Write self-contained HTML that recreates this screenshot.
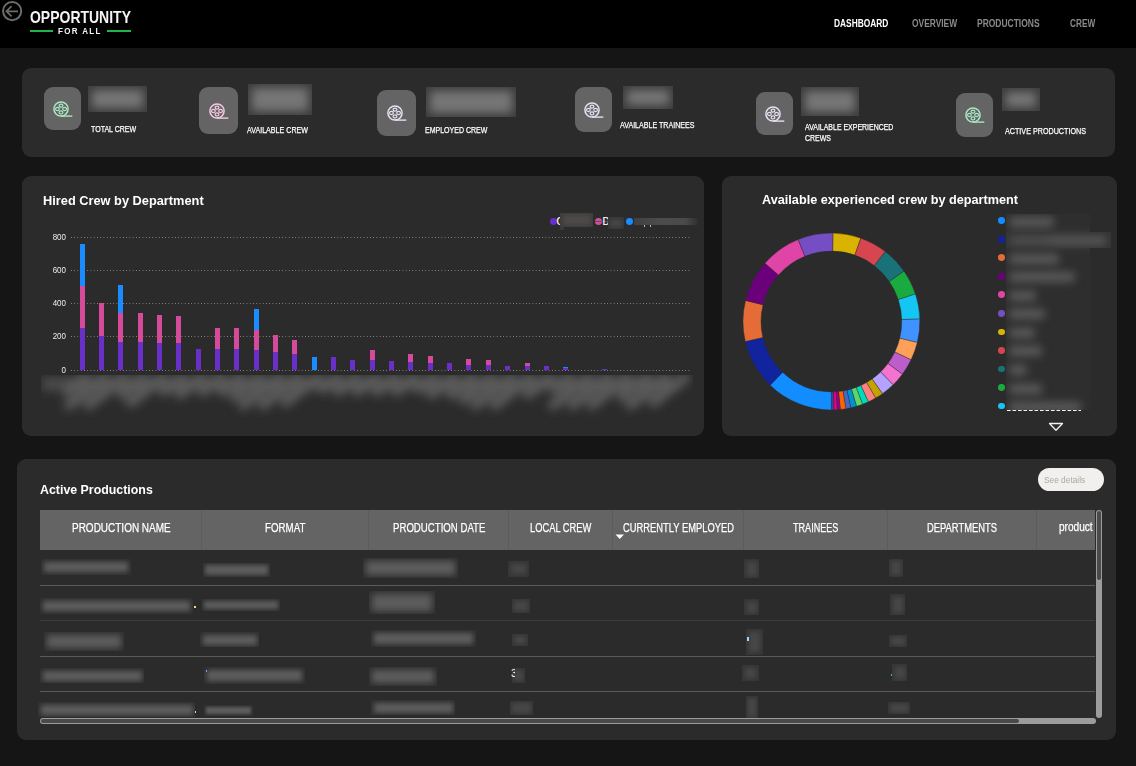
<!DOCTYPE html>
<html><head><meta charset="utf-8"><style>
*{box-sizing:border-box;margin:0;padding:0}
html,body{width:1136px;height:766px;overflow:hidden;background:#151515;font-family:"Liberation Sans", sans-serif;color:#fff}
.a{position:absolute}
.card{background:#2b2b2b;border-radius:9px}
.ib{background:#646464;border-radius:9px}
.t{white-space:nowrap;transform-origin:0 0;line-height:1}
.blob{overflow:hidden}
.blob i{position:absolute;display:block}
</style></head>
<body>
<div class="a" style="left:0;top:0;width:1136px;height:48px;background:#000"></div>
<svg class="a" style="left:0;top:0" width="26" height="24" viewBox="0 0 26 24">
<circle cx="12.15" cy="11.1" r="9.1" fill="none" stroke="#6e6c6a" stroke-width="2"/>
<path d="M18 11.3H6.6M11.6 6.1L6.4 11.3L11.6 16.4" fill="none" stroke="#6e6c6a" stroke-width="1.7"/>
</svg>
<div class="a t" style="left:29.7px;top:9.03px;font-size:16.09px;font-weight:700;color:#f4f4f4;transform:scaleX(0.8693);">OPPORTUNITY</div>
<div class="a t" style="left:58px;top:26.47px;font-size:9.57px;font-weight:700;color:#f4f4f4;letter-spacing:1.6px;transform:scaleX(0.8358);">FOR ALL</div>
<div class="a" style="left:30px;top:30.4px;width:23px;height:2px;background:#1fb44b"></div>
<div class="a" style="left:107px;top:30.4px;width:24px;height:2px;background:#1fb44b"></div>
<div class="a t" style="left:834px;top:19.38px;font-size:10.14px;font-weight:700;color:#ffffff;transform:scaleX(0.8265);">DASHBOARD</div>
<div class="a t" style="left:912.4px;top:19.38px;font-size:10.14px;font-weight:700;color:#8a8a8a;transform:scaleX(0.8294);">OVERVIEW</div>
<div class="a t" style="left:976.9px;top:19.38px;font-size:10.14px;font-weight:700;color:#8a8a8a;transform:scaleX(0.8364);">PRODUCTIONS</div>
<div class="a t" style="left:1069.7px;top:19.38px;font-size:10.14px;font-weight:700;color:#8a8a8a;transform:scaleX(0.8130);">CREW</div>
<div class="a card" style="left:22px;top:68px;width:1093px;height:89px"></div>
<div class="a ib" style="left:44px;top:87px;width:37px;height:43px"></div>
<svg class="a" style="left:51.0px;top:98.5px" width="24" height="20" viewBox="0 0 24 20">
<circle cx="10" cy="10" r="7.1" fill="none" stroke="#a8e8c4" stroke-width="1.5"/>
<ellipse cx="10" cy="6.6" rx="1.9" ry="1.55" fill="none" stroke="#a8e8c4" stroke-width="1.2"/>
<ellipse cx="10" cy="13.4" rx="1.9" ry="1.55" fill="none" stroke="#a8e8c4" stroke-width="1.2"/>
<ellipse cx="6.4" cy="10" rx="1.9" ry="1.55" fill="none" stroke="#a8e8c4" stroke-width="1.2"/>
<ellipse cx="13.6" cy="10" rx="1.9" ry="1.55" fill="none" stroke="#a8e8c4" stroke-width="1.2"/>
<path d="M10 17.1H21.3" stroke="#a8e8c4" stroke-width="1.4"/>
</svg>
<div class="a blob" style="left:88px;top:86px;width:59px;height:26px;background:#3c3c3c"><i style="left:4px;top:4px;right:4px;bottom:4px;background:#767676;filter:blur(5px)"></i></div>
<div class="a t" style="left:90.9px;top:125.16px;font-size:8.99px;font-weight:400;color:#ffffff;-webkit-text-stroke:0.25px #fff;transform:scaleX(0.7828);">TOTAL CREW</div>
<div class="a ib" style="left:199px;top:87px;width:39px;height:47px"></div>
<svg class="a" style="left:207.0px;top:100.5px" width="24" height="20" viewBox="0 0 24 20">
<circle cx="10" cy="10" r="7.1" fill="none" stroke="#f5c9e3" stroke-width="1.5"/>
<ellipse cx="10" cy="6.6" rx="1.9" ry="1.55" fill="none" stroke="#f5c9e3" stroke-width="1.2"/>
<ellipse cx="10" cy="13.4" rx="1.9" ry="1.55" fill="none" stroke="#f5c9e3" stroke-width="1.2"/>
<ellipse cx="6.4" cy="10" rx="1.9" ry="1.55" fill="none" stroke="#f5c9e3" stroke-width="1.2"/>
<ellipse cx="13.6" cy="10" rx="1.9" ry="1.55" fill="none" stroke="#f5c9e3" stroke-width="1.2"/>
<path d="M10 17.1H21.3" stroke="#f5c9e3" stroke-width="1.4"/>
</svg>
<div class="a blob" style="left:248px;top:84px;width:64px;height:31px;background:#3c3c3c"><i style="left:4px;top:4px;right:4px;bottom:4px;background:#767676;filter:blur(5px)"></i></div>
<div class="a t" style="left:247px;top:125.56px;font-size:8.99px;font-weight:400;color:#ffffff;-webkit-text-stroke:0.25px #fff;transform:scaleX(0.7915);">AVAILABLE CREW</div>
<div class="a ib" style="left:377px;top:90px;width:39px;height:46px"></div>
<svg class="a" style="left:385.0px;top:103.0px" width="24" height="20" viewBox="0 0 24 20">
<circle cx="10" cy="10" r="7.1" fill="none" stroke="#e6dff2" stroke-width="1.5"/>
<ellipse cx="10" cy="6.6" rx="1.9" ry="1.55" fill="none" stroke="#e6dff2" stroke-width="1.2"/>
<ellipse cx="10" cy="13.4" rx="1.9" ry="1.55" fill="none" stroke="#e6dff2" stroke-width="1.2"/>
<ellipse cx="6.4" cy="10" rx="1.9" ry="1.55" fill="none" stroke="#e6dff2" stroke-width="1.2"/>
<ellipse cx="13.6" cy="10" rx="1.9" ry="1.55" fill="none" stroke="#e6dff2" stroke-width="1.2"/>
<path d="M10 17.1H21.3" stroke="#e6dff2" stroke-width="1.4"/>
</svg>
<div class="a blob" style="left:426px;top:87px;width:90px;height:30px;background:#3c3c3c"><i style="left:4px;top:4px;right:4px;bottom:4px;background:#767676;filter:blur(5px)"></i></div>
<div class="a t" style="left:425px;top:125.76px;font-size:8.99px;font-weight:400;color:#ffffff;-webkit-text-stroke:0.25px #fff;transform:scaleX(0.7811);">EMPLOYED CREW</div>
<div class="a ib" style="left:575px;top:87px;width:37px;height:45px"></div>
<svg class="a" style="left:582.0px;top:99.5px" width="24" height="20" viewBox="0 0 24 20">
<circle cx="10" cy="10" r="7.1" fill="none" stroke="#e6dff2" stroke-width="1.5"/>
<ellipse cx="10" cy="6.6" rx="1.9" ry="1.55" fill="none" stroke="#e6dff2" stroke-width="1.2"/>
<ellipse cx="10" cy="13.4" rx="1.9" ry="1.55" fill="none" stroke="#e6dff2" stroke-width="1.2"/>
<ellipse cx="6.4" cy="10" rx="1.9" ry="1.55" fill="none" stroke="#e6dff2" stroke-width="1.2"/>
<ellipse cx="13.6" cy="10" rx="1.9" ry="1.55" fill="none" stroke="#e6dff2" stroke-width="1.2"/>
<path d="M10 17.1H21.3" stroke="#e6dff2" stroke-width="1.4"/>
</svg>
<div class="a blob" style="left:623px;top:86px;width:50px;height:23px;background:#3c3c3c"><i style="left:4px;top:4px;right:4px;bottom:4px;background:#767676;filter:blur(5px)"></i></div>
<div class="a t" style="left:619.8px;top:120.96px;font-size:8.99px;font-weight:400;color:#ffffff;-webkit-text-stroke:0.25px #fff;transform:scaleX(0.7893);">AVAILABLE TRAINEES</div>
<div class="a ib" style="left:756px;top:92px;width:37px;height:43px"></div>
<svg class="a" style="left:763.0px;top:103.5px" width="24" height="20" viewBox="0 0 24 20">
<circle cx="10" cy="10" r="7.1" fill="none" stroke="#e6dff2" stroke-width="1.5"/>
<ellipse cx="10" cy="6.6" rx="1.9" ry="1.55" fill="none" stroke="#e6dff2" stroke-width="1.2"/>
<ellipse cx="10" cy="13.4" rx="1.9" ry="1.55" fill="none" stroke="#e6dff2" stroke-width="1.2"/>
<ellipse cx="6.4" cy="10" rx="1.9" ry="1.55" fill="none" stroke="#e6dff2" stroke-width="1.2"/>
<ellipse cx="13.6" cy="10" rx="1.9" ry="1.55" fill="none" stroke="#e6dff2" stroke-width="1.2"/>
<path d="M10 17.1H21.3" stroke="#e6dff2" stroke-width="1.4"/>
</svg>
<div class="a blob" style="left:801px;top:87px;width:58px;height:29px;background:#3c3c3c"><i style="left:4px;top:4px;right:4px;bottom:4px;background:#767676;filter:blur(5px)"></i></div>
<div class="a t" style="left:805px;top:122.66px;font-size:8.99px;font-weight:400;color:#ffffff;-webkit-text-stroke:0.25px #fff;transform:scaleX(0.7753);">AVAILABLE EXPERIENCED</div>
<div class="a t" style="left:805px;top:133.86px;font-size:8.99px;font-weight:400;color:#ffffff;-webkit-text-stroke:0.25px #fff;transform:scaleX(0.7774);">CREWS</div>
<div class="a ib" style="left:956px;top:93px;width:37px;height:44px"></div>
<svg class="a" style="left:963.0px;top:105.0px" width="24" height="20" viewBox="0 0 24 20">
<circle cx="10" cy="10" r="7.1" fill="none" stroke="#a8e8c4" stroke-width="1.5"/>
<ellipse cx="10" cy="6.6" rx="1.9" ry="1.55" fill="none" stroke="#a8e8c4" stroke-width="1.2"/>
<ellipse cx="10" cy="13.4" rx="1.9" ry="1.55" fill="none" stroke="#a8e8c4" stroke-width="1.2"/>
<ellipse cx="6.4" cy="10" rx="1.9" ry="1.55" fill="none" stroke="#a8e8c4" stroke-width="1.2"/>
<ellipse cx="13.6" cy="10" rx="1.9" ry="1.55" fill="none" stroke="#a8e8c4" stroke-width="1.2"/>
<path d="M10 17.1H21.3" stroke="#a8e8c4" stroke-width="1.4"/>
</svg>
<div class="a blob" style="left:1002px;top:88px;width:38px;height:23px;background:#3c3c3c"><i style="left:4px;top:4px;right:4px;bottom:4px;background:#767676;filter:blur(5px)"></i></div>
<div class="a t" style="left:1005px;top:126.86px;font-size:8.99px;font-weight:400;color:#ffffff;-webkit-text-stroke:0.25px #fff;transform:scaleX(0.7992);">ACTIVE PRODUCTIONS</div>
<div class="a card" style="left:22px;top:176px;width:682px;height:260px"></div>
<div class="a t" style="left:42.9px;top:193.71px;font-size:13.04px;font-weight:700;color:#ffffff;transform:scaleX(0.9816);">Hired Crew by Department</div>
<div class="a" style="left:71px;top:237px;width:620px;height:1px;background-image:linear-gradient(90deg,#8e8e8e 1px,transparent 1px);background-size:3.25px 1px"></div>
<div class="a t" style="left:30px;width:36px;text-align:right;top:232.7px;font-size:9.2px;color:#ececec;transform:scaleX(0.87);transform-origin:100% 0">800</div>
<div class="a" style="left:71px;top:270px;width:620px;height:1px;background-image:linear-gradient(90deg,#8e8e8e 1px,transparent 1px);background-size:3.25px 1px"></div>
<div class="a t" style="left:30px;width:36px;text-align:right;top:265.7px;font-size:9.2px;color:#ececec;transform:scaleX(0.87);transform-origin:100% 0">600</div>
<div class="a" style="left:71px;top:303px;width:620px;height:1px;background-image:linear-gradient(90deg,#8e8e8e 1px,transparent 1px);background-size:3.25px 1px"></div>
<div class="a t" style="left:30px;width:36px;text-align:right;top:298.7px;font-size:9.2px;color:#ececec;transform:scaleX(0.87);transform-origin:100% 0">400</div>
<div class="a" style="left:71px;top:336px;width:620px;height:1px;background-image:linear-gradient(90deg,#8e8e8e 1px,transparent 1px);background-size:3.25px 1px"></div>
<div class="a t" style="left:30px;width:36px;text-align:right;top:331.7px;font-size:9.2px;color:#ececec;transform:scaleX(0.87);transform-origin:100% 0">200</div>
<div class="a" style="left:71px;top:370px;width:620px;height:1px;background-image:linear-gradient(90deg,#8e8e8e 1px,transparent 1px);background-size:3.25px 1px"></div>
<div class="a t" style="left:30px;width:36px;text-align:right;top:365.7px;font-size:9.2px;color:#ececec;transform:scaleX(0.87);transform-origin:100% 0">0</div>
<div class="a" style="left:80px;top:328px;width:5px;height:42px;background:#6a2ec9"></div>
<div class="a" style="left:80px;top:286px;width:5px;height:42px;background:#d64a9c"></div>
<div class="a" style="left:80px;top:244px;width:5px;height:42px;background:#1a8cff"></div>
<div class="a" style="left:99px;top:336px;width:5px;height:34px;background:#6a2ec9"></div>
<div class="a" style="left:99px;top:303px;width:5px;height:33px;background:#d64a9c"></div>
<div class="a" style="left:118px;top:342px;width:5px;height:28px;background:#6a2ec9"></div>
<div class="a" style="left:118px;top:313px;width:5px;height:29px;background:#d64a9c"></div>
<div class="a" style="left:118px;top:285px;width:5px;height:28px;background:#1a8cff"></div>
<div class="a" style="left:138px;top:342px;width:5px;height:28px;background:#6a2ec9"></div>
<div class="a" style="left:138px;top:313px;width:5px;height:29px;background:#d64a9c"></div>
<div class="a" style="left:157px;top:343px;width:5px;height:27px;background:#6a2ec9"></div>
<div class="a" style="left:157px;top:315px;width:5px;height:28px;background:#d64a9c"></div>
<div class="a" style="left:176px;top:343px;width:5px;height:27px;background:#6a2ec9"></div>
<div class="a" style="left:176px;top:316px;width:5px;height:27px;background:#d64a9c"></div>
<div class="a" style="left:196px;top:349px;width:5px;height:21px;background:#6a2ec9"></div>
<div class="a" style="left:215px;top:349px;width:5px;height:21px;background:#6a2ec9"></div>
<div class="a" style="left:215px;top:328px;width:5px;height:21px;background:#d64a9c"></div>
<div class="a" style="left:234px;top:349px;width:5px;height:21px;background:#6a2ec9"></div>
<div class="a" style="left:234px;top:328px;width:5px;height:21px;background:#d64a9c"></div>
<div class="a" style="left:254px;top:350px;width:5px;height:20px;background:#6a2ec9"></div>
<div class="a" style="left:254px;top:330px;width:5px;height:20px;background:#d64a9c"></div>
<div class="a" style="left:254px;top:309px;width:5px;height:21px;background:#1a8cff"></div>
<div class="a" style="left:273px;top:352px;width:5px;height:18px;background:#6a2ec9"></div>
<div class="a" style="left:273px;top:335px;width:5px;height:17px;background:#d64a9c"></div>
<div class="a" style="left:292px;top:354px;width:5px;height:16px;background:#6a2ec9"></div>
<div class="a" style="left:292px;top:340px;width:5px;height:14px;background:#d64a9c"></div>
<div class="a" style="left:312px;top:357px;width:5px;height:13px;background:#1a8cff"></div>
<div class="a" style="left:331px;top:357px;width:5px;height:13px;background:#6a2ec9"></div>
<div class="a" style="left:350px;top:360px;width:5px;height:10px;background:#6a2ec9"></div>
<div class="a" style="left:370px;top:360px;width:5px;height:10px;background:#6a2ec9"></div>
<div class="a" style="left:370px;top:350px;width:5px;height:10px;background:#d64a9c"></div>
<div class="a" style="left:389px;top:361px;width:5px;height:9px;background:#6a2ec9"></div>
<div class="a" style="left:408px;top:362px;width:5px;height:8px;background:#6a2ec9"></div>
<div class="a" style="left:408px;top:354px;width:5px;height:8px;background:#d64a9c"></div>
<div class="a" style="left:428px;top:363px;width:5px;height:7px;background:#6a2ec9"></div>
<div class="a" style="left:428px;top:356px;width:5px;height:7px;background:#d64a9c"></div>
<div class="a" style="left:447px;top:363px;width:5px;height:7px;background:#6a2ec9"></div>
<div class="a" style="left:466px;top:365px;width:5px;height:5px;background:#6a2ec9"></div>
<div class="a" style="left:466px;top:359px;width:5px;height:6px;background:#d64a9c"></div>
<div class="a" style="left:486px;top:365px;width:5px;height:5px;background:#6a2ec9"></div>
<div class="a" style="left:486px;top:360px;width:5px;height:5px;background:#d64a9c"></div>
<div class="a" style="left:505px;top:366px;width:5px;height:4px;background:#6a2ec9"></div>
<div class="a" style="left:525px;top:366px;width:5px;height:4px;background:#6a2ec9"></div>
<div class="a" style="left:525px;top:363px;width:5px;height:3px;background:#d64a9c"></div>
<div class="a" style="left:544px;top:366px;width:5px;height:4px;background:#6a2ec9"></div>
<div class="a" style="left:563px;top:368px;width:5px;height:2px;background:#6a2ec9"></div>
<div class="a" style="left:563px;top:367px;width:5px;height:1px;background:#1a8cff"></div>
<div class="a" style="left:602px;top:369px;width:5px;height:1px;background:#6a2ec9"></div>
<div class="a" style="left:41px;top:375px;width:652px;height:50px;overflow:hidden"><svg class="a" style="left:-5px;top:-9px" width="670" height="60" viewBox="0 0 670 60"><defs><filter id="bl" x="-10%" y="-50%" width="120%" height="200%"><feGaussianBlur stdDeviation="5"/></filter></defs><g filter="url(#bl)"><rect x="6" y="11" width="632" height="14" fill="#4a4a4a"/><line x1="49.0" y1="12" x2="31.4" y2="25.5" stroke="#5c5c5c" stroke-width="10" stroke-linecap="round"/><line x1="68.3" y1="12" x2="33.2" y2="39.0" stroke="#5c5c5c" stroke-width="10" stroke-linecap="round"/><line x1="87.7" y1="12" x2="52.6" y2="39.0" stroke="#5c5c5c" stroke-width="10" stroke-linecap="round"/><line x1="107.1" y1="12" x2="86.0" y2="28.2" stroke="#5c5c5c" stroke-width="10" stroke-linecap="round"/><line x1="126.4" y1="12" x2="94.8" y2="36.3" stroke="#5c5c5c" stroke-width="10" stroke-linecap="round"/><line x1="145.8" y1="12" x2="128.2" y2="25.5" stroke="#5c5c5c" stroke-width="10" stroke-linecap="round"/><line x1="165.1" y1="12" x2="144.0" y2="28.2" stroke="#5c5c5c" stroke-width="10" stroke-linecap="round"/><line x1="184.5" y1="12" x2="166.9" y2="25.5" stroke="#5c5c5c" stroke-width="10" stroke-linecap="round"/><line x1="203.8" y1="12" x2="186.2" y2="25.5" stroke="#5c5c5c" stroke-width="10" stroke-linecap="round"/><line x1="223.1" y1="12" x2="198.6" y2="30.9" stroke="#5c5c5c" stroke-width="10" stroke-linecap="round"/><line x1="242.5" y1="12" x2="207.4" y2="39.0" stroke="#5c5c5c" stroke-width="10" stroke-linecap="round"/><line x1="261.9" y1="12" x2="226.8" y2="39.0" stroke="#5c5c5c" stroke-width="10" stroke-linecap="round"/><line x1="281.2" y1="12" x2="249.6" y2="36.3" stroke="#5c5c5c" stroke-width="10" stroke-linecap="round"/><line x1="300.6" y1="12" x2="286.5" y2="22.8" stroke="#5c5c5c" stroke-width="10" stroke-linecap="round"/><line x1="319.9" y1="12" x2="302.4" y2="25.5" stroke="#5c5c5c" stroke-width="10" stroke-linecap="round"/><line x1="339.2" y1="12" x2="321.7" y2="25.5" stroke="#5c5c5c" stroke-width="10" stroke-linecap="round"/><line x1="358.6" y1="12" x2="341.1" y2="25.5" stroke="#5c5c5c" stroke-width="10" stroke-linecap="round"/><line x1="378.0" y1="12" x2="360.4" y2="25.5" stroke="#5c5c5c" stroke-width="10" stroke-linecap="round"/><line x1="397.3" y1="12" x2="383.3" y2="22.8" stroke="#5c5c5c" stroke-width="10" stroke-linecap="round"/><line x1="416.7" y1="12" x2="395.6" y2="28.2" stroke="#5c5c5c" stroke-width="10" stroke-linecap="round"/><line x1="436.0" y1="12" x2="414.9" y2="28.2" stroke="#5c5c5c" stroke-width="10" stroke-linecap="round"/><line x1="455.4" y1="12" x2="427.3" y2="33.6" stroke="#5c5c5c" stroke-width="10" stroke-linecap="round"/><line x1="474.7" y1="12" x2="439.6" y2="39.0" stroke="#5c5c5c" stroke-width="10" stroke-linecap="round"/><line x1="494.0" y1="12" x2="458.9" y2="39.0" stroke="#5c5c5c" stroke-width="10" stroke-linecap="round"/><line x1="513.4" y1="12" x2="492.3" y2="28.2" stroke="#5c5c5c" stroke-width="10" stroke-linecap="round"/><line x1="532.8" y1="12" x2="518.7" y2="22.8" stroke="#5c5c5c" stroke-width="10" stroke-linecap="round"/><line x1="552.1" y1="12" x2="517.0" y2="39.0" stroke="#5c5c5c" stroke-width="10" stroke-linecap="round"/><line x1="571.5" y1="12" x2="536.4" y2="39.0" stroke="#5c5c5c" stroke-width="10" stroke-linecap="round"/><line x1="590.8" y1="12" x2="555.7" y2="39.0" stroke="#5c5c5c" stroke-width="10" stroke-linecap="round"/><line x1="610.2" y1="12" x2="585.6" y2="30.9" stroke="#5c5c5c" stroke-width="10" stroke-linecap="round"/><line x1="629.5" y1="12" x2="594.4" y2="39.0" stroke="#5c5c5c" stroke-width="10" stroke-linecap="round"/><line x1="648.9" y1="12" x2="617.3" y2="36.3" stroke="#5c5c5c" stroke-width="10" stroke-linecap="round"/></g></svg></div>
<div class="a" style="left:549.9px;top:217.8px;width:6.8px;height:6.8px;border-radius:50%;background:#6a2ec9"></div>
<div class="a t" style="left:556.5px;top:217px;font-size:10px;color:#fff;-webkit-text-stroke:0.2px #fff">C</div>
<div class="a blob" style="left:560.3px;top:213px;width:32.700000000000045px;height:14px;background:#3e3b3b"><i style="left:2.3333333333333335px;top:2.3333333333333335px;right:2.3333333333333335px;bottom:2.3333333333333335px;background:#4e4a4a;filter:blur(2.3333333333333335px)"></i></div>
<div class="a" style="left:560.3px;top:227px;width:4px;height:3px;background:#3a3838"></div>
<div class="a" style="left:594.9px;top:217.8px;width:6.8px;height:6.8px;border-radius:50%;background:#d64a9c"></div>
<div class="a" style="left:595px;top:220.8px;width:13px;height:0.8px;background:#555"></div>
<div class="a t" style="left:602.5px;top:217px;font-size:10px;color:#fff;-webkit-text-stroke:0.2px #fff">D</div>
<div class="a blob" style="left:608px;top:217px;width:16px;height:11.5px;background:#353535"><i style="left:1.9166666666666667px;top:1.9166666666666667px;right:1.9166666666666667px;bottom:1.9166666666666667px;background:#474747;filter:blur(1.9166666666666667px)"></i></div>
<div class="a" style="left:626px;top:217.8px;width:6.8px;height:6.8px;border-radius:50%;background:#1a8cff"></div>
<div class="a" style="left:634px;top:217.8px;width:64px;height:7px;background:linear-gradient(90deg,#404042,#4e4b4b 40%,#4a4a4a 80%,#2f2f2f)"></div>
<div class="a" style="left:644px;top:225px;width:1px;height:2px;background:#bbb"></div><div class="a" style="left:650px;top:225px;width:1px;height:2px;background:#bbb"></div>
<div class="a card" style="left:722px;top:176px;width:395px;height:260px"></div>
<div class="a t" style="left:762.1px;top:193.11px;font-size:13.04px;font-weight:700;color:#ffffff;transform:scaleX(0.9731);">Available experienced crew by department</div>
<svg class="a" style="left:0;top:0" width="1136" height="766" viewBox="0 0 1136 766"><path d="M832.94 233.11A88.4 88.4 0 0 1 860.84 238.14L854.84 255.12A70.4 70.4 0 0 0 832.63 251.11Z" fill="#D9B300" stroke="#2b2b2b" stroke-width="0.4"/><path d="M860.84 238.14A88.4 88.4 0 0 1 885.34 251.46L874.35 265.72A70.4 70.4 0 0 0 854.84 255.12Z" fill="#D64550" stroke="#2b2b2b" stroke-width="0.4"/><path d="M885.34 251.46A88.4 88.4 0 0 1 904.08 271.18L889.28 281.42A70.4 70.4 0 0 0 874.35 265.72Z" fill="#197278" stroke="#2b2b2b" stroke-width="0.4"/><path d="M904.08 271.18A88.4 88.4 0 0 1 915.43 294.04L898.32 299.63A70.4 70.4 0 0 0 889.28 281.42Z" fill="#1AAB40" stroke="#2b2b2b" stroke-width="0.4"/><path d="M915.43 294.04A88.4 88.4 0 0 1 919.77 319.03L901.77 319.53A70.4 70.4 0 0 0 898.32 299.63Z" fill="#15C6F4" stroke="#2b2b2b" stroke-width="0.4"/><path d="M919.77 319.03A88.4 88.4 0 0 1 917.25 342.59L899.77 338.29A70.4 70.4 0 0 0 901.77 319.53Z" fill="#4092FF" stroke="#2b2b2b" stroke-width="0.4"/><path d="M917.25 342.59A88.4 88.4 0 0 1 911.06 359.84L894.84 352.03A70.4 70.4 0 0 0 899.77 338.29Z" fill="#FFA058" stroke="#2b2b2b" stroke-width="0.4"/><path d="M911.06 359.84A88.4 88.4 0 0 1 902.37 374.21L887.92 363.47A70.4 70.4 0 0 0 894.84 352.03Z" fill="#BE5DC9" stroke="#2b2b2b" stroke-width="0.4"/><path d="M902.37 374.21A88.4 88.4 0 0 1 893.14 384.77L880.57 371.88A70.4 70.4 0 0 0 887.92 363.47Z" fill="#F472D0" stroke="#2b2b2b" stroke-width="0.4"/><path d="M893.14 384.77A88.4 88.4 0 0 1 882.48 393.65L872.08 378.96A70.4 70.4 0 0 0 880.57 371.88Z" fill="#B5A1FF" stroke="#2b2b2b" stroke-width="0.4"/><path d="M882.48 393.65A88.4 88.4 0 0 1 875.60 398.06L866.60 382.47A70.4 70.4 0 0 0 872.08 378.96Z" fill="#C4A200" stroke="#2b2b2b" stroke-width="0.4"/><path d="M875.60 398.06A88.4 88.4 0 0 1 868.34 401.81L860.82 385.46A70.4 70.4 0 0 0 866.60 382.47Z" fill="#FF8080" stroke="#2b2b2b" stroke-width="0.4"/><path d="M868.34 401.81A88.4 88.4 0 0 1 862.50 404.25L856.17 387.40A70.4 70.4 0 0 0 860.82 385.46Z" fill="#00DBBC" stroke="#2b2b2b" stroke-width="0.4"/><path d="M862.50 404.25A88.4 88.4 0 0 1 856.51 406.26L851.39 389.00A70.4 70.4 0 0 0 856.17 387.40Z" fill="#5BD667" stroke="#2b2b2b" stroke-width="0.4"/><path d="M856.51 406.26A88.4 88.4 0 0 1 850.83 407.74L846.88 390.18A70.4 70.4 0 0 0 851.39 389.00Z" fill="#0091D5" stroke="#2b2b2b" stroke-width="0.4"/><path d="M850.83 407.74A88.4 88.4 0 0 1 845.84 408.71L842.90 390.95A70.4 70.4 0 0 0 846.88 390.18Z" fill="#4668C5" stroke="#2b2b2b" stroke-width="0.4"/><path d="M845.84 408.71A88.4 88.4 0 0 1 840.33 409.45L838.51 391.54A70.4 70.4 0 0 0 842.90 390.95Z" fill="#FF6300" stroke="#2b2b2b" stroke-width="0.4"/><path d="M840.33 409.45A88.4 88.4 0 0 1 837.10 409.72L835.94 391.75A70.4 70.4 0 0 0 838.51 391.54Z" fill="#99008A" stroke="#2b2b2b" stroke-width="0.4"/><path d="M837.10 409.72A88.4 88.4 0 0 1 834.02 409.86L833.49 391.87A70.4 70.4 0 0 0 835.94 391.75Z" fill="#EC008C" stroke="#2b2b2b" stroke-width="0.4"/><path d="M834.02 409.86A88.4 88.4 0 0 1 831.40 409.90L831.40 391.90A70.4 70.4 0 0 0 833.49 391.87Z" fill="#5B3590" stroke="#2b2b2b" stroke-width="0.4"/><path d="M831.40 409.90A88.4 88.4 0 0 1 770.10 385.20L782.58 372.23A70.4 70.4 0 0 0 831.40 391.90Z" fill="#118DFF" stroke="#2b2b2b" stroke-width="0.4"/><path d="M770.10 385.20A88.4 88.4 0 0 1 745.30 341.54L762.83 337.46A70.4 70.4 0 0 0 782.58 372.23Z" fill="#12239E" stroke="#2b2b2b" stroke-width="0.4"/><path d="M745.30 341.54A88.4 88.4 0 0 1 745.55 300.41L763.03 304.71A70.4 70.4 0 0 0 762.83 337.46Z" fill="#E66C37" stroke="#2b2b2b" stroke-width="0.4"/><path d="M745.55 300.41A88.4 88.4 0 0 1 764.99 263.16L778.51 275.04A70.4 70.4 0 0 0 763.03 304.71Z" fill="#6B007B" stroke="#2b2b2b" stroke-width="0.4"/><path d="M764.99 263.16A88.4 88.4 0 0 1 798.14 239.59L804.91 256.27A70.4 70.4 0 0 0 778.51 275.04Z" fill="#E044A7" stroke="#2b2b2b" stroke-width="0.4"/><path d="M798.14 239.59A88.4 88.4 0 0 1 832.94 233.11L832.63 251.11A70.4 70.4 0 0 0 804.91 256.27Z" fill="#744EC2" stroke="#2b2b2b" stroke-width="0.4"/></svg>
<div class="a" style="left:998.0px;top:217.2px;width:6.8px;height:6.8px;border-radius:50%;background:#118DFF"></div>
<div class="a" style="left:998.0px;top:235.8px;width:6.8px;height:6.8px;border-radius:50%;background:#12239E"></div>
<div class="a" style="left:998.0px;top:254.3px;width:6.8px;height:6.8px;border-radius:50%;background:#E66C37"></div>
<div class="a" style="left:998.0px;top:272.9px;width:6.8px;height:6.8px;border-radius:50%;background:#6B007B"></div>
<div class="a" style="left:998.0px;top:291.4px;width:6.8px;height:6.8px;border-radius:50%;background:#E044A7"></div>
<div class="a" style="left:998.0px;top:310.0px;width:6.8px;height:6.8px;border-radius:50%;background:#744EC2"></div>
<div class="a" style="left:998.0px;top:328.5px;width:6.8px;height:6.8px;border-radius:50%;background:#D9B300"></div>
<div class="a" style="left:998.0px;top:347.1px;width:6.8px;height:6.8px;border-radius:50%;background:#D64550"></div>
<div class="a" style="left:998.0px;top:365.6px;width:6.8px;height:6.8px;border-radius:50%;background:#197278"></div>
<div class="a" style="left:998.0px;top:384.2px;width:6.8px;height:6.8px;border-radius:50%;background:#1AAB40"></div>
<div class="a" style="left:998.0px;top:402.7px;width:6.8px;height:6.8px;border-radius:50%;background:#15C6F4"></div>
<div class="a" style="left:1006px;top:214px;width:84px;height:196px;overflow:hidden;background:#2e2e2e"><div class="a" style="left:0;top:0;width:84px;height:196px;filter:blur(4px)"><i class="a" style="left:3px;top:2.6px;width:45.0px;height:10px;background:#5a5a5a;border-radius:3px"></i><i class="a" style="left:3px;top:21.2px;width:86.0px;height:10px;background:#5a5a5a;border-radius:3px"></i><i class="a" style="left:3px;top:39.7px;width:49.5px;height:10px;background:#5a5a5a;border-radius:3px"></i><i class="a" style="left:3px;top:58.2px;width:66.0px;height:10px;background:#5a5a5a;border-radius:3px"></i><i class="a" style="left:3px;top:76.8px;width:27.0px;height:10px;background:#5a5a5a;border-radius:3px"></i><i class="a" style="left:3px;top:95.4px;width:36.0px;height:10px;background:#5a5a5a;border-radius:3px"></i><i class="a" style="left:3px;top:113.9px;width:25.5px;height:10px;background:#5a5a5a;border-radius:3px"></i><i class="a" style="left:3px;top:132.4px;width:33.0px;height:10px;background:#5a5a5a;border-radius:3px"></i><i class="a" style="left:3px;top:151.0px;width:18.0px;height:10px;background:#5a5a5a;border-radius:3px"></i><i class="a" style="left:3px;top:169.6px;width:33.0px;height:10px;background:#5a5a5a;border-radius:3px"></i><i class="a" style="left:3px;top:188.1px;width:72.0px;height:10px;background:#5a5a5a;border-radius:3px"></i></div></div>
<div class="a" style="left:1006px;top:232px;width:105px;height:16px;overflow:hidden;background:#333"><div class="a" style="left:0;top:0;width:105px;height:16px;filter:blur(4px)"><i class="a" style="left:40px;top:4px;width:60px;height:9px;background:#585858"></i><i class="a" style="left:4px;top:4px;width:40px;height:9px;background:#505050"></i></div></div>
<div class="a" style="left:1007px;top:409.8px;width:74px;height:1.2px;background-image:linear-gradient(90deg,#f4f4f4 60%,transparent 60%);background-size:5.5px 1px"></div>
<svg class="a" style="left:1048px;top:422px" width="16" height="10" viewBox="0 0 16 10"><path d="M1.5 1.5H14.5L8 8.3Z" fill="none" stroke="#f0f0f0" stroke-width="1.3" stroke-linejoin="round"/></svg>
<div class="a card" style="left:17px;top:459px;width:1099px;height:281px"></div>
<div class="a t" style="left:40.1px;top:482.57px;font-size:13.33px;font-weight:700;color:#ffffff;transform:scaleX(0.9284);">Active Productions</div>
<div class="a" style="left:1038px;top:468px;width:66px;height:23px;border-radius:12px;background:#f1f0ee"></div>
<div class="a t" style="left:1044px;top:475.27px;font-size:9.57px;font-weight:400;color:#aca7a2;transform:scaleX(0.8705);">See details</div>
<div class="a" style="left:40px;top:510px;width:1055px;height:40px;background:#646464"></div>
<div class="a" style="left:201px;top:510px;width:1px;height:40px;background:#5c5c5c"></div>
<div class="a" style="left:368px;top:510px;width:1px;height:40px;background:#5c5c5c"></div>
<div class="a" style="left:508px;top:510px;width:1px;height:40px;background:#5c5c5c"></div>
<div class="a" style="left:612px;top:510px;width:1px;height:40px;background:#5c5c5c"></div>
<div class="a" style="left:743px;top:510px;width:1px;height:40px;background:#5c5c5c"></div>
<div class="a" style="left:887px;top:510px;width:1px;height:40px;background:#5c5c5c"></div>
<div class="a" style="left:1036px;top:510px;width:1px;height:40px;background:#5c5c5c"></div>
<div class="a t" style="left:71.95px;top:521.98px;font-size:12.61px;font-weight:400;color:#ffffff;transform:scaleX(0.7916);-webkit-text-stroke:0.25px #fff">PRODUCTION NAME</div>
<div class="a t" style="left:265.10px;top:521.98px;font-size:12.61px;font-weight:400;color:#ffffff;transform:scaleX(0.7725);-webkit-text-stroke:0.25px #fff">FORMAT</div>
<div class="a t" style="left:392.60px;top:521.98px;font-size:12.61px;font-weight:400;color:#ffffff;transform:scaleX(0.7639);-webkit-text-stroke:0.25px #fff">PRODUCTION DATE</div>
<div class="a t" style="left:530.10px;top:521.98px;font-size:12.61px;font-weight:400;color:#ffffff;transform:scaleX(0.7406);-webkit-text-stroke:0.25px #fff">LOCAL CREW</div>
<div class="a t" style="left:622.80px;top:521.98px;font-size:12.61px;font-weight:400;color:#ffffff;transform:scaleX(0.7426);-webkit-text-stroke:0.25px #fff">CURRENTLY EMPLOYED</div>
<div class="a t" style="left:793.10px;top:521.98px;font-size:12.61px;font-weight:400;color:#ffffff;transform:scaleX(0.72);-webkit-text-stroke:0.25px #fff">TRAINEES</div>
<div class="a t" style="left:927.30px;top:521.98px;font-size:12.61px;font-weight:400;color:#ffffff;transform:scaleX(0.7438);-webkit-text-stroke:0.25px #fff">DEPARTMENTS</div>
<div class="a" style="left:1036px;top:510px;width:59px;height:40px;overflow:hidden"><div class="a t" style="left:23px;top:10.5px;font-size:12.6px;transform:scaleX(0.8);-webkit-text-stroke:0.25px #fff">product</div></div>
<svg class="a" style="left:615px;top:534px" width="10" height="6" viewBox="0 0 10 6"><path d="M0.5 0.5H9L4.75 5Z" fill="#fff"/></svg>
<div class="a" style="left:40px;top:585px;width:1055px;height:1px;background:#5a5a5a"></div>
<div class="a" style="left:40px;top:620px;width:1055px;height:1px;background:#3c3c3c"></div>
<div class="a" style="left:40px;top:656px;width:1055px;height:1px;background:#5a5a5a"></div>
<div class="a" style="left:40px;top:691px;width:1055px;height:1px;background:#5a5a5a"></div>
<div class="a" style="left:194px;top:606px;width:2px;height:2px;background:#f5d58a"></div>
<div class="a" style="left:194px;top:711px;width:2px;height:2px;background:#f5d58a"></div>
<div class="a" style="left:44px;top:704.5px;width:1px;height:2px;background:#3db4f0"></div>
<div class="a blob" style="left:41px;top:559px;width:90px;height:16px;background:#2f2f2f"><i style="left:2.6666666666666665px;top:2.6666666666666665px;right:2.6666666666666665px;bottom:2.6666666666666665px;background:#5c5c5c;filter:blur(2.6666666666666665px)"></i></div>
<div class="a blob" style="left:203px;top:563px;width:67px;height:14px;background:#2f2f2f"><i style="left:2.3333333333333335px;top:2.3333333333333335px;right:2.3333333333333335px;bottom:2.3333333333333335px;background:#5c5c5c;filter:blur(2.3333333333333335px)"></i></div>
<div class="a blob" style="left:363px;top:558px;width:95px;height:20px;background:#2f2f2f"><i style="left:3px;top:3px;right:3px;bottom:3px;background:#5c5c5c;filter:blur(3.3333333333333335px)"></i></div>
<div class="a blob" style="left:508px;top:561px;width:21px;height:16px;background:#353535"><i style="left:2.6666666666666665px;top:2.6666666666666665px;right:2.6666666666666665px;bottom:2.6666666666666665px;background:#474747;filter:blur(2.6666666666666665px)"></i></div>
<div class="a blob" style="left:744px;top:559px;width:15px;height:19px;background:#353535"><i style="left:2.5px;top:2.5px;right:2.5px;bottom:2.5px;background:#474747;filter:blur(2.5px)"></i></div>
<div class="a blob" style="left:889px;top:559px;width:14px;height:18px;background:#353535"><i style="left:2.3333333333333335px;top:2.3333333333333335px;right:2.3333333333333335px;bottom:2.3333333333333335px;background:#474747;filter:blur(2.3333333333333335px)"></i></div>
<div class="a blob" style="left:40px;top:598px;width:153px;height:16px;background:#2f2f2f"><i style="left:2.6666666666666665px;top:2.6666666666666665px;right:2.6666666666666665px;bottom:2.6666666666666665px;background:#5c5c5c;filter:blur(2.6666666666666665px)"></i></div>
<div class="a blob" style="left:202px;top:599px;width:78px;height:12px;background:#2f2f2f"><i style="left:2.0px;top:2.0px;right:2.0px;bottom:2.0px;background:#5c5c5c;filter:blur(2.0px)"></i></div>
<div class="a blob" style="left:369px;top:591px;width:66px;height:23px;background:#2f2f2f"><i style="left:3px;top:3px;right:3px;bottom:3px;background:#5c5c5c;filter:blur(3.5px)"></i></div>
<div class="a blob" style="left:512px;top:599px;width:18px;height:14px;background:#353535"><i style="left:2.3333333333333335px;top:2.3333333333333335px;right:2.3333333333333335px;bottom:2.3333333333333335px;background:#474747;filter:blur(2.3333333333333335px)"></i></div>
<div class="a blob" style="left:744px;top:599px;width:15px;height:16px;background:#353535"><i style="left:2.5px;top:2.5px;right:2.5px;bottom:2.5px;background:#474747;filter:blur(2.5px)"></i></div>
<div class="a blob" style="left:890px;top:594px;width:15px;height:21px;background:#353535"><i style="left:2.5px;top:2.5px;right:2.5px;bottom:2.5px;background:#474747;filter:blur(2.5px)"></i></div>
<div class="a blob" style="left:44px;top:632px;width:80px;height:19px;background:#2f2f2f"><i style="left:3px;top:3px;right:3px;bottom:3px;background:#5c5c5c;filter:blur(3.1666666666666665px)"></i></div>
<div class="a blob" style="left:200px;top:632px;width:59px;height:15px;background:#2f2f2f"><i style="left:2.5px;top:2.5px;right:2.5px;bottom:2.5px;background:#5c5c5c;filter:blur(2.5px)"></i></div>
<div class="a blob" style="left:371px;top:630px;width:105px;height:17px;background:#2f2f2f"><i style="left:2.8333333333333335px;top:2.8333333333333335px;right:2.8333333333333335px;bottom:2.8333333333333335px;background:#5c5c5c;filter:blur(2.8333333333333335px)"></i></div>
<div class="a blob" style="left:512px;top:634px;width:16px;height:12px;background:#353535"><i style="left:2.0px;top:2.0px;right:2.0px;bottom:2.0px;background:#474747;filter:blur(2.0px)"></i></div>
<div class="a blob" style="left:746px;top:629px;width:17px;height:26px;background:#353535"><i style="left:2.8333333333333335px;top:2.8333333333333335px;right:2.8333333333333335px;bottom:2.8333333333333335px;background:#474747;filter:blur(2.8333333333333335px)"></i></div>
<div class="a blob" style="left:889px;top:635px;width:18px;height:12px;background:#353535"><i style="left:2.0px;top:2.0px;right:2.0px;bottom:2.0px;background:#474747;filter:blur(2.0px)"></i></div>
<div class="a blob" style="left:40px;top:668px;width:104px;height:15px;background:#2f2f2f"><i style="left:2.5px;top:2.5px;right:2.5px;bottom:2.5px;background:#5c5c5c;filter:blur(2.5px)"></i></div>
<div class="a blob" style="left:204px;top:667px;width:101px;height:17px;background:#2f2f2f"><i style="left:2.8333333333333335px;top:2.8333333333333335px;right:2.8333333333333335px;bottom:2.8333333333333335px;background:#5c5c5c;filter:blur(2.8333333333333335px)"></i></div>
<div class="a blob" style="left:369px;top:667px;width:68px;height:19px;background:#2f2f2f"><i style="left:3px;top:3px;right:3px;bottom:3px;background:#5c5c5c;filter:blur(3.1666666666666665px)"></i></div>
<div class="a blob" style="left:512px;top:668px;width:13px;height:15px;background:#353535"><i style="left:2.1666666666666665px;top:2.1666666666666665px;right:2.1666666666666665px;bottom:2.1666666666666665px;background:#474747;filter:blur(2.1666666666666665px)"></i></div>
<div class="a blob" style="left:742px;top:665px;width:17px;height:16px;background:#353535"><i style="left:2.6666666666666665px;top:2.6666666666666665px;right:2.6666666666666665px;bottom:2.6666666666666665px;background:#474747;filter:blur(2.6666666666666665px)"></i></div>
<div class="a blob" style="left:892px;top:664px;width:15px;height:17px;background:#353535"><i style="left:2.5px;top:2.5px;right:2.5px;bottom:2.5px;background:#474747;filter:blur(2.5px)"></i></div>
<div class="a blob" style="left:38px;top:702px;width:157px;height:15px;background:#2f2f2f"><i style="left:2.5px;top:2.5px;right:2.5px;bottom:2.5px;background:#5c5c5c;filter:blur(2.5px)"></i></div>
<div class="a blob" style="left:204px;top:705px;width:49px;height:11px;background:#2f2f2f"><i style="left:1.8333333333333333px;top:1.8333333333333333px;right:1.8333333333333333px;bottom:1.8333333333333333px;background:#5c5c5c;filter:blur(1.8333333333333333px)"></i></div>
<div class="a blob" style="left:371px;top:700px;width:84px;height:15px;background:#2f2f2f"><i style="left:2.5px;top:2.5px;right:2.5px;bottom:2.5px;background:#5c5c5c;filter:blur(2.5px)"></i></div>
<div class="a blob" style="left:510px;top:701px;width:23px;height:14px;background:#353535"><i style="left:2.3333333333333335px;top:2.3333333333333335px;right:2.3333333333333335px;bottom:2.3333333333333335px;background:#474747;filter:blur(2.3333333333333335px)"></i></div>
<div class="a blob" style="left:746px;top:696px;width:12px;height:23px;background:#353535"><i style="left:2.0px;top:2.0px;right:2.0px;bottom:2.0px;background:#474747;filter:blur(2.0px)"></i></div>
<div class="a blob" style="left:888px;top:702px;width:22px;height:12px;background:#353535"><i style="left:2.0px;top:2.0px;right:2.0px;bottom:2.0px;background:#474747;filter:blur(2.0px)"></i></div>
<div class="a" style="left:511px;top:668px;width:4px;height:12px;overflow:hidden"><div class="a t" style="left:0;top:-0.5px;font-size:11px;color:#f2f2f2">3</div></div>
<div class="a" style="left:747px;top:637px;width:1.5px;height:4px;background:#9fd4ff"></div>
<div class="a" style="left:890.5px;top:674px;width:1px;height:2px;background:#3db4f0"></div>
<div class="a" style="left:205.5px;top:670px;width:1px;height:2px;background:#6aa8ff"></div>
<div class="a" style="left:1095.5px;top:510px;width:6px;height:208px;border-radius:3px;background:#9c9c9c"></div>
<div class="a" style="left:1096.5px;top:511px;width:4px;height:69px;border-radius:2px;background:#4a4a4a"></div>
<div class="a" style="left:40px;top:718px;width:1056px;height:6px;border-radius:3px;background:#9c9c9c"></div>
<div class="a" style="left:41px;top:719px;width:978px;height:4px;border-radius:2px;background:#4a4a4a"></div>
</body></html>
